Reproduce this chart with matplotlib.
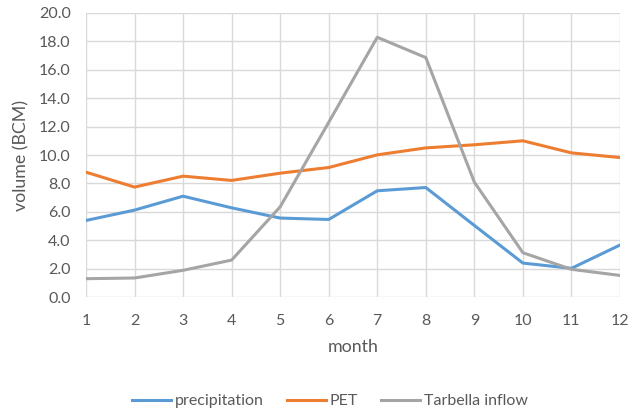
import matplotlib

matplotlib.use("Agg")
import matplotlib.pyplot as plt

plt.rcParams["font.family"] = ["Lato", "DejaVu Sans"]

# 월별 값 (BCM)
months = list(range(1, 13))
precipitation = [5.39, 6.12, 7.10, 6.28, 5.56, 5.46, 7.48, 7.71, 5.04, 2.39, 2.02, 3.66]
pet = [8.79, 7.74, 8.51, 8.21, 8.72, 9.12, 10.01, 10.50, 10.72, 11.00, 10.15, 9.82]
tarbella_inflow = [1.29, 1.34, 1.88, 2.60, 6.35, 12.30, 18.29, 16.86, 8.09, 3.12, 1.95, 1.52]
y_ticks = [0, 2, 4, 6, 8, 10, 12, 14, 16, 18, 20]

text_color = "#595959"
grid_color = "#D9D9D9"

fig = plt.figure(figsize=(6.44, 4.15), dpi=100)
ax = fig.add_axes([0.1335, 0.2843, 0.8292, 0.6844])

ax.plot(months, precipitation, color="#5B9BD5", lw=2.2, label="precipitation",
        solid_joinstyle="round", zorder=3)
ax.plot(months, pet, color="#ED7D31", lw=2.2, label="PET",
        solid_joinstyle="round", zorder=3)
ax.plot(months, tarbella_inflow, color="#A5A5A5", lw=2.2, label="Tarbella inflow",
        solid_joinstyle="round", zorder=3)

ax.set_xlim(1, 12)
ax.set_ylim(0, 20)
ax.set_xticks(months)
ax.set_yticks(y_ticks)
ax.set_yticklabels([f"{v:.1f}" for v in y_ticks])
ax.grid(True, color=grid_color, lw=1.0)
ax.set_axisbelow(True)
for sp in ax.spines.values():
    sp.set_visible(False)
ax.tick_params(length=0, labelsize=11.5, labelcolor=text_color)
ax.tick_params(axis="x", pad=12)
ax.tick_params(axis="y", pad=11)

ax.set_xlabel("month", fontsize=12.8, color=text_color, labelpad=8)
ax.set_ylabel("volume (BCM)", fontsize=12.8, color=text_color, labelpad=7)

fig.legend(loc="center", bbox_to_anchor=(330 / 644, 1 - 401 / 415), ncol=3,
           frameon=False, fontsize=11.5, labelcolor=text_color,
           handlelength=2.45, handletextpad=0.25, columnspacing=1.45)

fig.savefig("out.png", dpi=100)
plt.close(fig)
